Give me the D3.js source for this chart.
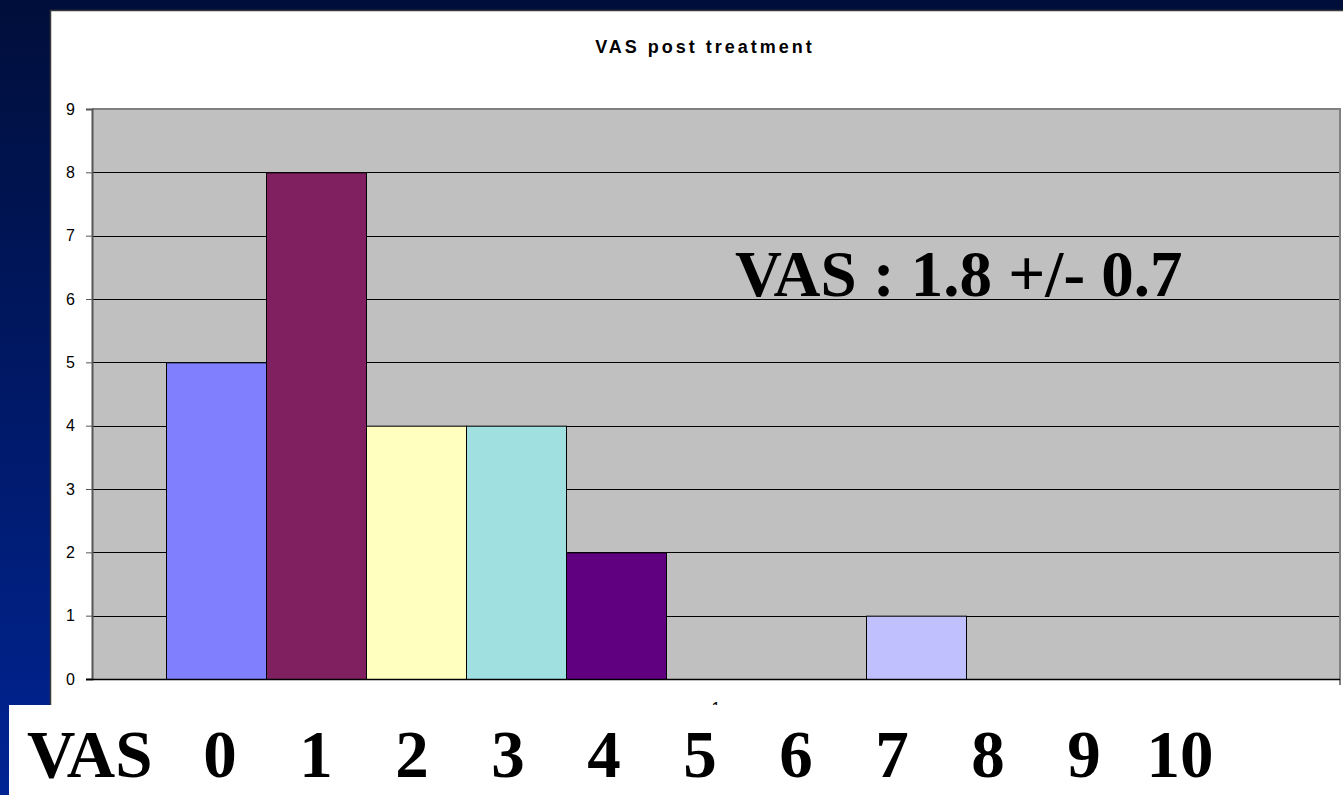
<!DOCTYPE html>
<html>
<head>
<meta charset="utf-8">
<script src="https://cdn.jsdelivr.net/npm/d3@7"></script>
<style>
  html, body { margin: 0; padding: 0; overflow: hidden; }
  svg { display: block; }
</style>
</head>
<body>
<div id="chart"></div>
<script>
// VAS scores (one series per score) and number of patients
const vasScores = ['0', '1', '2', '3', '4', '5', '6', '7', '8', '9', '10'];
const patientCounts = [5, 8, 4, 4, 2, 0, 0, 1, 0, 0, 0];
const barColors = ['#8080ff', '#802060', '#ffffc0', '#a0e0e0', '#600080', '#ff8080',
  '#0066cc', '#c0c0ff', '#000080', '#ff00ff', '#ffff00'];
const yTicks = [0, 1, 2, 3, 4, 5, 6, 7, 8, 9];
const categoryLabel = ['1'];
const chartTitle = 'VAS post treatment';
const annotation = 'VAS : 1.8 +/- 0.7';
const bottomLabels = ['0', '1', '2', '3', '4', '5', '6', '7', '8', '9', '10'];

const width = 1343;
const height = 795;
const plot = {left: 92, right: 1340, top: 109, bottom: 679};

const svg = d3.select('#chart')
  .append('svg')
  .attr('width', width)
  .attr('height', height);

// slide background
const grad = svg.append('defs').append('linearGradient')
  .attr('id', 'bg').attr('x1', 0).attr('y1', 0).attr('x2', 0).attr('y2', 1);
grad.append('stop').attr('offset', '0%').attr('stop-color', '#000e3a');
grad.append('stop').attr('offset', '100%').attr('stop-color', '#002494');
svg.append('rect').attr('width', width).attr('height', height).attr('fill', 'url(#bg)');

// white chart panel
svg.append('rect')
  .attr('x', 50.5).attr('y', 10.5)
  .attr('width', width).attr('height', 720)
  .attr('fill', '#ffffff')
  .attr('stroke', '#3a3a3a').attr('stroke-width', 1.5);

// scales
const x = d3.scaleBand()
  .domain(vasScores)
  .range([plot.left, plot.right])
  .paddingInner(0)
  .paddingOuter(0.74);

const y = d3.scaleLinear()
  .domain([0, 9])
  .range([plot.bottom, plot.top]);

// plot area
svg.append('rect')
  .attr('x', plot.left).attr('y', plot.top)
  .attr('width', plot.right - plot.left).attr('height', plot.bottom - plot.top)
  .attr('fill', '#c0c0c0');

// gridlines
svg.append('g')
  .selectAll('line')
  .data(yTicks.filter(d => d > 0 && d < 9))
  .join('line')
  .attr('x1', plot.left).attr('x2', plot.right)
  .attr('y1', d => Math.round(y(d)) + 0.5).attr('y2', d => Math.round(y(d)) + 0.5)
  .attr('stroke', '#000000').attr('stroke-width', 1);

// plot area top and right borders
svg.append('path')
  .attr('d', `M${plot.left},${plot.top} H${plot.right} V${plot.bottom}`)
  .attr('fill', 'none')
  .attr('stroke', '#808080').attr('stroke-width', 2);

// bars
svg.append('g')
  .selectAll('rect')
  .data(patientCounts.map((v, i) => ({score: vasScores[i], value: v, color: barColors[i]})))
  .join('rect')
  .filter(d => d.value > 0)
  .attr('x', d => x(d.score) + 0.5)
  .attr('y', d => y(d.value) + 0.5)
  .attr('width', x.bandwidth())
  .attr('height', d => y(0) - y(d.value))
  .attr('fill', d => d.color)
  .attr('stroke', '#000000').attr('stroke-width', 1);

// y axis
const yAxis = svg.append('g')
  .attr('transform', `translate(${plot.left},0)`)
  .call(d3.axisLeft(y).tickValues(yTicks).tickSize(6).tickPadding(11).tickFormat(d3.format('d')));
yAxis.attr('font-size', 16);
yAxis.select('.domain').attr('stroke', '#555555').attr('stroke-width', 2);
yAxis.selectAll('.tick line').attr('stroke', '#555555');
yAxis.selectAll('text')
  .attr('font-family', 'Arial, "Liberation Sans", sans-serif')
  .style('font-size', '16px').attr('fill', '#000000');

// x axis baseline
svg.append('line')
  .attr('x1', plot.left - 6).attr('x2', plot.right)
  .attr('y1', plot.bottom + 0.5).attr('y2', plot.bottom + 0.5)
  .attr('stroke', '#000000').attr('stroke-width', 1.5);
svg.append('line')
  .attr('x1', plot.right).attr('x2', plot.right)
  .attr('y1', plot.bottom).attr('y2', plot.bottom + 6)
  .attr('stroke', '#000000');

// category label (partly hidden under the slide text box)
svg.append('text')
  .attr('x', (plot.left + plot.right) / 2)
  .attr('y', 714)
  .attr('text-anchor', 'middle')
  .attr('font-family', 'Arial, "Liberation Sans", sans-serif')
  .style('font-size', '16px')
  .text(categoryLabel[0]);

// title
svg.append('text')
  .attr('x', 705).attr('y', 53)
  .attr('text-anchor', 'middle')
  .attr('font-family', 'Arial, "Liberation Sans", sans-serif')
  .style('font-size', '18px').attr('font-weight', 'bold')
  .attr('letter-spacing', 3)
  .text(chartTitle);

// annotation
svg.append('text')
  .attr('x', 735).attr('y', 296)
  .attr('font-family', '"Times New Roman", "Liberation Serif", serif')
  .attr('font-size', 65).attr('font-weight', 'bold')
  .text(annotation);

// slide text box below the chart
svg.append('rect')
  .attr('x', 9).attr('y', 705)
  .attr('width', width).attr('height', 100)
  .attr('fill', '#ffffff');

const labelX = d3.scalePoint()
  .domain(bottomLabels)
  .range([220, 1180]);

svg.append('text')
  .attr('x', 27).attr('y', 777)
  .attr('font-family', '"Times New Roman", "Liberation Serif", serif')
  .attr('font-size', 67).attr('font-weight', 'bold')
  .text('VAS');

svg.append('g')
  .selectAll('text')
  .data(bottomLabels)
  .join('text')
  .attr('x', d => labelX(d))
  .attr('y', 777)
  .attr('text-anchor', 'middle')
  .attr('font-family', '"Times New Roman", "Liberation Serif", serif')
  .attr('font-size', 67).attr('font-weight', 'bold')
  .text(d => d);
</script>
</body>
</html>
